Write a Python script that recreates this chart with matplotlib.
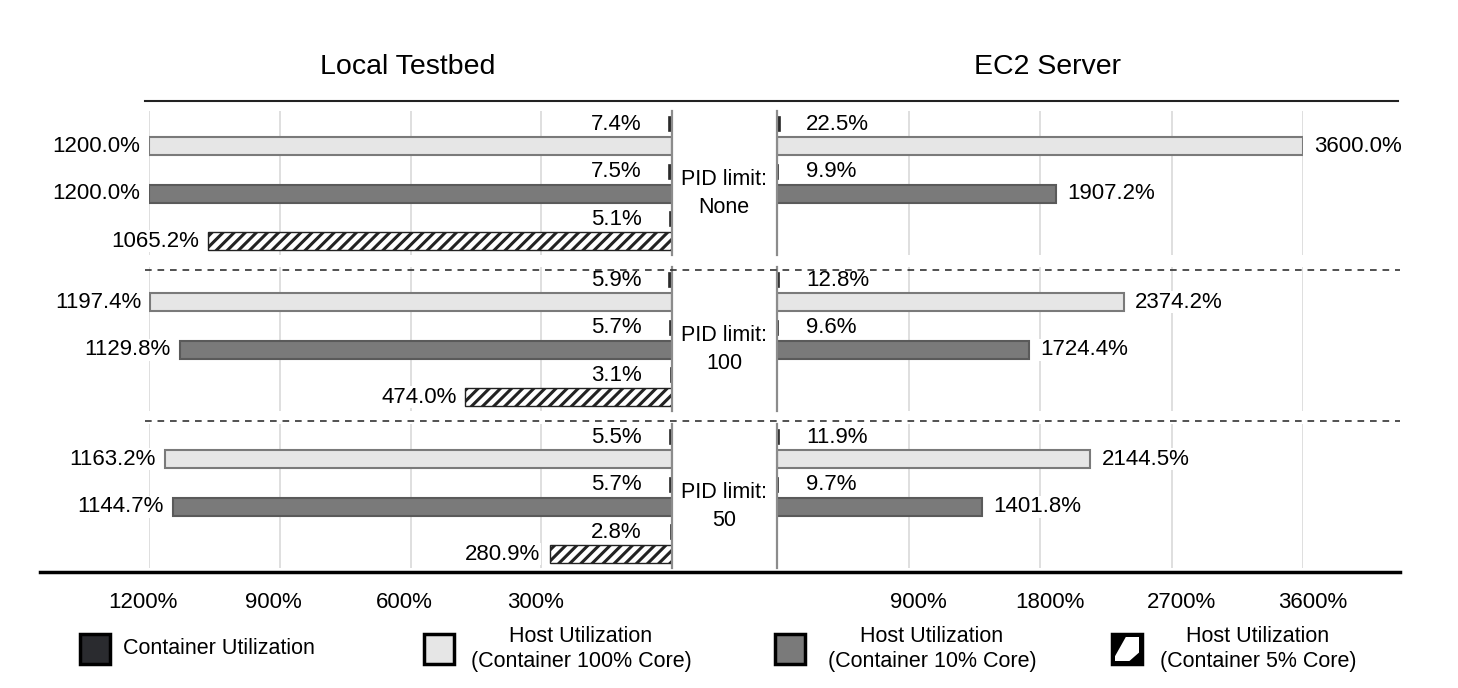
import matplotlib.pyplot as plt
import matplotlib.transforms as mtransforms
from matplotlib.patches import Rectangle, Polygon
from matplotlib.lines import Line2D

plt.rcParams['font.family'] = ['Liberation Sans', 'DejaVu Sans']
plt.rcParams['hatch.linewidth'] = 2.2
plt.rcParams['hatch.color'] = 'black'

# data (percent)
pid_limits = ["None", "100", "50"]
local_container_100 = [7.4, 5.9, 5.5]
local_container_10 = [7.5, 5.7, 5.7]
local_container_5 = [5.1, 3.1, 2.8]
local_host_100 = [1200.0, 1197.4, 1163.2]
local_host_10 = [1200.0, 1129.8, 1144.7]
local_host_5 = [1065.2, 474.0, 280.9]
ec2_container_100 = [22.5, 12.8, 11.9]
ec2_container_10 = [9.9, 9.6, 9.7]
ec2_host_100 = [3600.0, 2374.2, 2144.5]
ec2_host_10 = [1907.2, 1724.4, 1401.8]

local_ticks = [1200, 900, 600, 300]
ec2_ticks = [900, 1800, 2700, 3600]

W, H = 1458, 688
fig = plt.figure(figsize=(W / 100, H / 100), dpi=100)


def fx(px):
    return px / W


def fy(py):
    return 1 - py / H


styles = [
    dict(color="#e6e6e6", edgecolor="#7a7a7a", linewidth=1.5),
    dict(color="#7a7a7a", edgecolor="#5a5a5a", linewidth=1.5),
    dict(color="white", edgecolor="#222222", linewidth=1.0, hatch="///"),
]
cont_style = dict(color="#2a2a2a", edgecolor="#2a2a2a", linewidth=1.2)
lbl_font = 16
box = dict(facecolor="white", edgecolor="none", pad=0.5)

group_tops = [111, 267, 424]
grp_h = 143.5
c_off = 0.46

for g, top in enumerate(group_tops):
    ax_l = fig.add_axes([fx(149), fy(top + grp_h), fx(672 - 149), grp_h / H])
    ax_r = fig.add_axes([fx(777), fy(top + grp_h), fx(1303 - 777), grp_h / H])

    local_c = [local_container_100[g], local_container_10[g], local_container_5[g]]
    local_h = [local_host_100[g], local_host_10[g], local_host_5[g]]
    ec2_c = [ec2_container_100[g], ec2_container_10[g]]
    ec2_h = [ec2_host_100[g], ec2_host_10[g]]

    for p in range(3):
        ax_l.barh(p, local_h[p], height=0.38, zorder=2, **styles[p])
        ax_l.barh(p - c_off, local_c[p], height=0.3, zorder=2, **cont_style)
        ax_l.annotate(f"{local_h[p]:.1f}%", (local_h[p], p), xytext=(-6.5, 0),
                      textcoords="offset points", ha="right", va="center",
                      fontsize=lbl_font, bbox=box, annotation_clip=False, zorder=3)
        ax_l.annotate(f"{local_c[p]:.1f}%", (0, p - c_off), xytext=(-22, 0),
                      textcoords="offset points", ha="right", va="center",
                      fontsize=lbl_font, bbox=box, annotation_clip=False, zorder=3)

    for p in range(2):
        ax_r.barh(p, ec2_h[p], height=0.38, zorder=2, **styles[p])
        ax_r.barh(p - c_off, ec2_c[p], height=0.3, zorder=2, **cont_style)
        ax_r.annotate(f"{ec2_h[p]:.1f}%", (ec2_h[p], p), xytext=(8, 0),
                      textcoords="offset points", ha="left", va="center",
                      fontsize=lbl_font, bbox=box, annotation_clip=False, zorder=3)
        ax_r.annotate(f"{ec2_c[p]:.1f}%", (0, p - c_off), xytext=(21, 0),
                      textcoords="offset points", ha="left", va="center",
                      fontsize=lbl_font, bbox=box, annotation_clip=False, zorder=3)

    ax_l.set_xlim(1200, 0)
    ax_r.set_xlim(0, 3600)
    ax_l.set_xticks(local_ticks)
    ax_r.set_xticks(ec2_ticks)
    for ax in (ax_l, ax_r):
        ax.set_ylim(2.28, -0.74)
        ax.set_yticks([])
        ax.set_axisbelow(True)
        ax.grid(axis="x", color="#d9d9d9", linewidth=1.2)
        ax.tick_params(axis="x", length=0, pad=18, labelsize=16)
        ax.patch.set_alpha(0)
        for s in ax.spines.values():
            s.set_visible(False)
        if g < 2:
            ax.set_xticklabels([])
    ax_l.spines["right"].set_visible(True)
    ax_l.spines["right"].set_color("#8c8c8c")
    ax_l.spines["right"].set_linewidth(1.6)
    ax_r.spines["left"].set_visible(True)
    ax_r.spines["left"].set_color("#8c8c8c")
    ax_r.spines["left"].set_linewidth(1.6)
    if g == 2:
        ax_l.set_xticklabels([f"{t}%" for t in local_ticks])
        ax_r.set_xticklabels([f"{t}%" for t in ec2_ticks])
        shift_r = mtransforms.ScaledTranslation(10 / 100, 0, fig.dpi_scale_trans)
        for lab in ax_r.get_xticklabels():
            lab.set_transform(lab.get_transform() + shift_r)
        shift_l = mtransforms.ScaledTranslation(-6 / 100, 0, fig.dpi_scale_trans)
        for lab in ax_l.get_xticklabels():
            lab.set_transform(lab.get_transform() + shift_l)

    trans = mtransforms.blended_transform_factory(fig.transFigure, ax_l.transData)
    ax_l.text(fx(724), 1, f"PID limit:\n{pid_limits[g]}", transform=trans,
              ha="center", va="center", fontsize=15.5, linespacing=1.45)

# titles
fig.text(fx(408), fy(67), "Local Testbed", ha="center", va="center", fontsize=20.5)
fig.text(fx(1047), fy(67), "EC2 Server", ha="center", va="center", fontsize=20.5)

# frame lines and separators
fig.add_artist(Line2D([fx(145), fx(1398)], [fy(101), fy(101)], color="#222222", lw=1.5))
fig.add_artist(Line2D([fx(40), fx(1400)], [fy(572), fy(572)], color="black", lw=2.5))
for py in (270, 421):
    fig.add_artist(Line2D([fx(145), fx(1400)], [fy(py), fy(py)], color="#333333",
                          lw=1.2, linestyle=(0, (4, 3.5))))

# legend
leg_y = 634
sq = 30
icons = [
    (80, dict(facecolor="#2a2b2f", edgecolor="black")),
    (424, dict(facecolor="#e6e6e6", edgecolor="black")),
    (775, dict(facecolor="#7a7a7a", edgecolor="black")),
    (1112, dict(facecolor="black", edgecolor="black")),
]
for px, st in icons:
    fig.add_artist(Rectangle((fx(px), fy(leg_y + sq)), sq / W, sq / H,
                             transform=fig.transFigure, linewidth=2.5, **st))
# white band of the hatched icon
ix, iy = 1115, leg_y + 3
s = sq - 6
band = [(0, 0), (0, 0.2), (0.45, 1), (1, 1), (1, 0.35), (0.6, 0)]
fig.add_artist(Polygon([(fx(ix + u * s), fy(iy + s - v * s)) for u, v in band],
                       closed=True, transform=fig.transFigure, facecolor="white",
                       edgecolor="none"))

fig.text(fx(123), fy(649), "Container Utilization", ha="left", va="center", fontsize=15.5)
fig.text(fx(581), fy(649), "Host Utilization\n(Container 100% Core)", ha="center",
         va="center", fontsize=15.5, linespacing=1.3)
fig.text(fx(932), fy(649), "Host Utilization\n(Container 10% Core)", ha="center",
         va="center", fontsize=15.5, linespacing=1.3)
fig.text(fx(1258), fy(649), "Host Utilization\n(Container 5% Core)", ha="center",
         va="center", fontsize=15.5, linespacing=1.3)

fig.savefig("out.png", dpi=100)
